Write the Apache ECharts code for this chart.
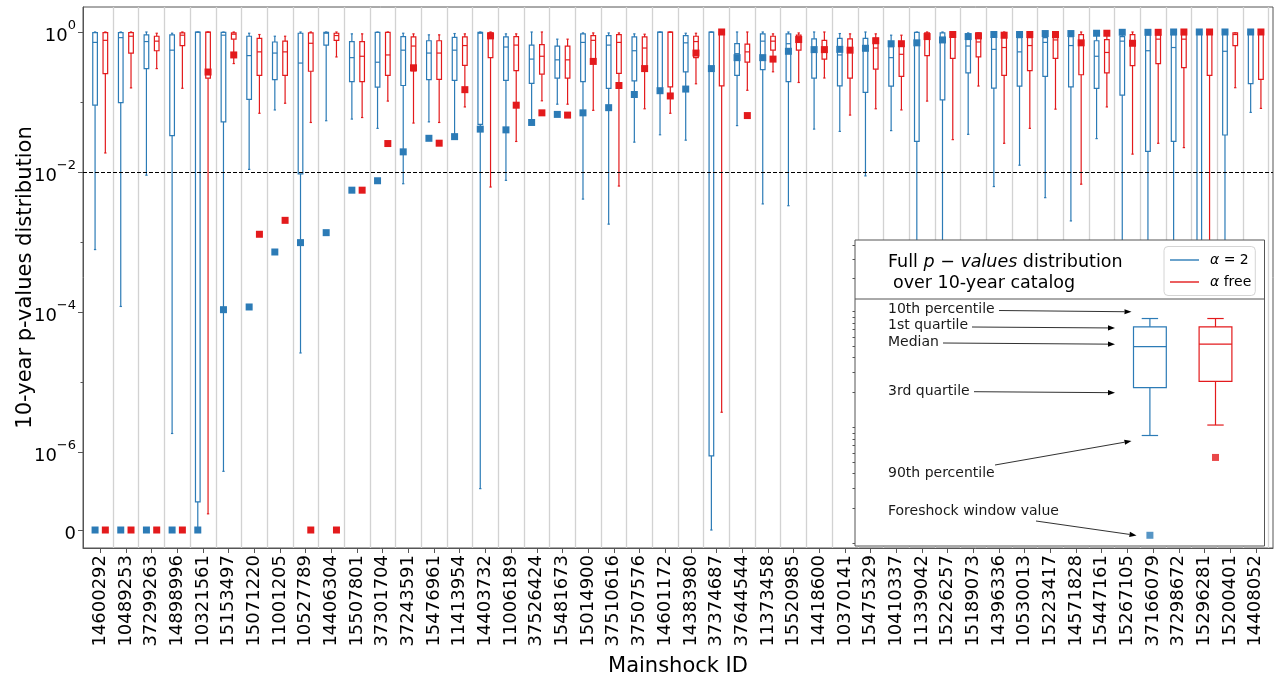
<!DOCTYPE html>
<html>
<head>
<meta charset="utf-8">
<script src="https://cdn.jsdelivr.net/npm/echarts@6.0.0/dist/echarts.min.js"></script>
<style>
  html, body { margin: 0; padding: 0; background: #fff; }
  #chart { width: 1277px; height: 682px; }
</style>
</head>
<body>
<div id="chart"></div>
<script>
// Mainshock identifiers, one box pair per mainshock
const mainshockIds = [
  '14600292','10489253','37299263','14898996','10321561','15153497','15071220','11001205',
  '10527789','14406304','15507801','37301704','37243591','15476961','11413954','14403732',
  '11006189','37526424','15481673','15014900','37510616','37507576','14601172','14383980',
  '37374687','37644544','11373458','15520985','14418600','10370141','15475329','10410337',
  '11339042','15226257','15189073','14396336','10530013','15223417','14571828','15447161',
  '15267105','37166079','37298672','15296281','15200401','14408052'
];

// alpha = 2: 10th percentile, 1st quartile, median, 3rd quartile, 90th percentile, foreshock window
const fixedP10 = [1.0,1.0,1.0,0.96,1.0,1.0,0.96,0.87,1.0,1.0,0.94,1.0,0.96,0.91,0.95,1.0,
  0.94,1.0,0.79,0.97,0.97,0.94,1.0,0.96,1.0,1.0,1.0,1.0,1.0,0.95,1.0,0.90,
  1.0,1.0,0.97,1.0,1.0,1.0,1.0,0.96,1.0,1.0,1.0,1.0,1.0,1.0];
const fixedQ1 = [0.98,0.98,0.91,0.91,1.0,0.99,0.87,0.72,0.96,0.99,0.73,0.99,0.86,0.75,0.84,0.99,
  0.85,0.65,0.63,0.94,0.89,0.85,1.0,0.89,1.0,0.68,0.94,0.94,0.80,0.81,0.81,0.62,
  0.99,0.97,0.93,0.84,0.83,0.83,0.86,0.75,0.86,0.92,0.92,1.0,1.0,1.0];
const fixedMedian = [0.71,0.83,0.73,0.55,0.99,0.90,0.46,0.50,0.36,0.96,0.43,0.37,0.55,0.50,0.55,0.96,
  0.61,0.41,0.40,0.71,0.65,0.54,0.99,0.70,0.99,0.49,0.74,0.68,0.55,0.47,0.58,0.43,
  0.70,0.77,0.63,0.565,0.52,0.71,0.64,0.45,0.74,0.54,0.60,0.98,0.53,0.98];
const fixedQ3 = [0.09,0.098,0.30,0.033,1.94e-7,0.052,0.109,0.209,0.0094,0.65,0.195,0.163,0.172,0.209,0.204,0.048,
  0.204,0.184,0.219,0.196,0.157,0.20,0.145,0.27,8.8e-7,0.24,0.29,0.196,0.22,0.17,0.137,0.169,
  0.0274,0.107,0.26,0.158,0.169,0.233,0.164,0.157,0.125,0.0197,0.0274,1e-5,0.0338,0.183];
const fixedP90 = [7.8e-4,1.2e-4,0.009,1.84e-6,0,5.3e-7,0.0109,0.077,2.6e-5,0.054,0.057,0.042,6.8e-3,0.052,0.0316,3.0e-7,
  7.6e-3,0.056,0.093,4.1e-3,1.8e-3,0.0267,0.034,0.0285,0,0.046,3.5e-3,3.3e-3,0.041,0.038,8.8e-3,0.039,
  2e-6,1e-6,0.0345,6.2e-3,0.0125,4.3e-3,2.0e-3,0.030,5e-6,1e-6,1e-6,0,1e-6,0.071];
const fixedForeshock = [0,0,0,0,0,1.08e-4,1.18e-4,7.2e-4,9.8e-4,1.36e-3,5.5e-3,7.5e-3,0.0194,0.0303,0.032,0.041,
  0.040,0.051,0.0665,0.070,0.083,0.128,0.145,0.153,0.30,0.43,0.43,0.53,0.56,0.565,0.585,0.68,
  0.70,0.77,0.86,0.92,0.92,0.95,0.95,0.96,0.99,0.99,1.0,1.0,1.0,1.0];

// alpha free
const freeP10 = [1.0,1.0,0.96,1.0,1.0,1.0,0.92,0.87,1.0,1.0,0.94,1.0,0.94,0.91,0.94,1.0,
  0.94,1.0,0.79,0.97,0.97,0.93,1.0,0.96,1.0,1.0,0.94,0.97,1.0,0.94,0.94,0.90,
  1.0,1.0,0.97,1.0,1.0,1.0,1.0,0.96,1.0,1.0,1.0,1.0,0.97,1.0];
const freeQ1 = [0.98,0.98,0.87,0.97,1.0,0.97,0.81,0.74,0.97,0.96,0.73,0.99,0.85,0.75,0.85,0.97,
  0.86,0.66,0.63,0.89,0.92,0.85,1.0,0.87,1.0,0.67,0.87,0.90,0.76,0.80,0.81,0.64,
  0.97,1.0,0.97,0.83,0.83,0.83,0.92,0.78,0.92,0.92,0.92,1.0,0.97,1.0];
const freeMedian = [0.76,0.87,0.74,0.90,0.99,0.93,0.52,0.52,0.69,0.89,0.45,0.47,0.63,0.50,0.64,0.92,
  0.65,0.45,0.40,0.76,0.71,0.59,0.99,0.73,0.99,0.52,0.74,0.80,0.56,0.55,0.59,0.48,
  0.86,0.93,0.72,0.60,0.64,0.77,0.72,0.51,0.70,0.79,0.79,0.99,0.92,0.98];
const freeQ3 = [0.254,0.50,0.54,0.64,0.219,0.79,0.24,0.24,0.275,0.76,0.196,0.24,0.278,0.21,0.334,0.43,
  0.281,0.25,0.22,0.39,0.257,0.30,0.164,0.43,0.17,0.37,0.55,0.55,0.41,0.22,0.294,0.233,
  0.46,0.42,0.44,0.24,0.28,0.42,0.245,0.26,0.33,0.353,0.31,0.24,0.64,0.21];
const freeP90 = [0.0187,0.159,0.30,0.157,1.31e-7,0.354,0.069,0.096,0.051,0.44,0.060,0.103,0.050,0.051,0.085,6.1e-3,
  0.0273,0.104,0.093,0.076,6.3e-3,0.080,0.069,0.182,3.7e-6,0.147,0.27,0.19,0.22,0.065,0.080,0.077,
  0.103,0.029,0.169,0.0257,0.042,0.079,6.7e-3,0.085,0.018,0.0257,0.0223,1e-6,0.16,0.081];
const freeForeshock = [0,0,0,0,0.268,0.47,1.29e-3,2.04e-3,0,0,5.5e-3,0.0255,0.308,0.0258,0.15,0.88,
  0.090,0.070,0.065,0.38,0.172,0.30,0.122,0.50,1.0,0.064,0.41,0.78,0.56,0.55,0.75,0.68,
  0.86,0.92,0.88,0.90,0.92,0.92,0.70,0.96,0.69,0.99,1.0,1.0,null,1.0];

// y tick decades (labelled and minor)
const yMajorExponents = [0, -2, -4, -6];
const yMinorExponents = [-1, -3, -5];
const significanceLevel = 0.01;

// Example distribution shown in the key
const keyLabels = ['α = 2', 'α free'];
const keyP10 = [0.526, 0.526];
const keyQ1 = [0.40, 0.40];
const keyMedian = [0.209, 0.226];
const keyQ3 = [0.054, 0.0667];
const keyP90 = [0.0112, 0.0158];
const keyForeshock = [4.2e-4, 5.44e-3];
// unlabeled log ticks along the key's left edge
const keyTickValues = [0.1,0.2,0.3,0.4,0.5,0.6,0.7,0.8,0.9,1,2,3,4,5,6,7,8,9,10];
const keyHeadTickValues = [2, 3, 4];

const BLUE = '#2c7bb6';
const RED = '#e31a1c';
const FRAME = '#555';
const FONT = 'DejaVu Sans';
const ZERO_POS = -7.114;          // axis position used for p = 0
const Y_MIN = -7.371, Y_MAX = 0.357;
const PAIR_SHIFT = 0.2;           // each model sits 0.2 units left / right of its mainshock
const BOX_W = 0.18;

function toAxis(p) {
  if (p === null || p === undefined) return null;
  return p > 0 ? Math.log10(p) : ZERO_POS;
}

function boxRows(p10, q1, med, q3, p90, shift, base) {
  return p10.map((_, i) => [i + base + shift,
    toAxis(p10[i]), toAxis(q1[i]), toAxis(med[i]), toAxis(q3[i]), toAxis(p90[i])]);
}
function pointRows(vals, shift, base) {
  const out = [];
  vals.forEach((v, i) => { if (v !== null) out.push([i + base + shift, toAxis(v)]); });
  return out;
}

function boxRenderer(color, width, lw) {
  return function (params, api) {
    const x = api.value(0);
    const cx = api.coord([x, api.value(1)])[0];
    const hw = api.size([width, 0])[0] / 2;
    const cw = hw / 2;
    const y = k => api.coord([x, api.value(k)])[1];
    const yTop = y(1), yQ1 = y(2), yMed = y(3), yQ3 = y(4), yBot = y(5);
    const st = { stroke: color, lineWidth: lw, fill: null };
    return {
      type: 'group',
      children: [
        { type: 'line', shape: { x1: cx, y1: yTop, x2: cx, y2: yQ1 }, style: st },
        { type: 'line', shape: { x1: cx, y1: yQ3, x2: cx, y2: yBot }, style: st },
        { type: 'line', shape: { x1: cx - cw, y1: yTop, x2: cx + cw, y2: yTop }, style: st },
        { type: 'line', shape: { x1: cx - cw, y1: yBot, x2: cx + cw, y2: yBot }, style: st },
        { type: 'rect', shape: { x: cx - hw, y: yQ1, width: 2 * hw, height: yQ3 - yQ1 }, style: st },
        { type: 'line', shape: { x1: cx - hw, y1: yMed, x2: cx + hw, y2: yMed }, style: st }
      ]
    };
  };
}

function supLabel(v) {
  if (Math.abs(v - ZERO_POS) < 1e-6) return '{b|0}';
  const e = Math.round(v);
  return '{b|10}{s|' + (e === 0 ? '0' : '\u2212' + (-e)) + '}';
}

const separators = mainshockIds.map((_, i) => ({ xAxis: i + 1.5 }));

function tickOnlyAxis(gridIndex, min, max, values, offset) {
  return {
    type: 'value', gridIndex: gridIndex, min: min, max: max, position: 'left', offset: offset,
    axisLine: { show: false }, axisLabel: { show: false }, splitLine: { show: false },
    axisTick: { show: true, length: 2.5, customValues: values, lineStyle: { color: FRAME } }
  };
}

const option = {
  animation: false,
  backgroundColor: '#fff',
  textStyle: { fontFamily: FONT, color: '#000' },
  grid: [
    { left: 83, right: 4, top: 7, bottom: 134, show: true, borderColor: FRAME, borderWidth: 1,
      backgroundColor: 'transparent', outerBoundsMode: 'none', containLabel: false },
    { left: 1117.1, top: 299, width: 131.2, height: 247, show: false, outerBoundsMode: 'none' },
    { left: 855, top: 240, width: 100, height: 59, show: false, outerBoundsMode: 'none' }
  ],
  xAxis: [
    {
      type: 'value', gridIndex: 0, min: 0.33, max: 46.67,
      name: 'Mainshock ID', nameLocation: 'middle', nameGap: 108, nameMoveOverlap: false,
      nameTextStyle: { fontSize: 21, color: '#000', fontFamily: FONT },
      axisLine: { show: true, onZero: false, lineStyle: { color: FRAME, width: 1 } },
      axisTick: { show: true, length: 5, customValues: mainshockIds.map((_, i) => i + 1), lineStyle: { color: FRAME } },
      axisLabel: {
        customValues: mainshockIds.map((_, i) => i + 1),
        formatter: v => mainshockIds[Math.round(v) - 1] || '',
        rotate: 90, fontSize: 18, color: '#000', margin: 7, fontFamily: FONT
      },
      splitLine: { show: false }
    },
    { type: 'value', gridIndex: 1, min: 0.5, max: 2.5, show: false },
    { type: 'value', gridIndex: 2, min: 0, max: 1, show: false }
  ],
  yAxis: [
    {
      type: 'value', gridIndex: 0, min: Y_MIN, max: Y_MAX,
      name: '10-year p-values distribution', nameLocation: 'middle', nameGap: 47, nameRotate: 90,
      nameMoveOverlap: false,
      nameTextStyle: { fontSize: 21, color: '#000', fontFamily: FONT },
      axisLine: { show: true, onZero: false, lineStyle: { color: FRAME, width: 1 } },
      axisTick: { show: true, length: 5, customValues: yMajorExponents.concat([ZERO_POS]), lineStyle: { color: FRAME } },
      axisLabel: {
        customValues: yMajorExponents.concat([ZERO_POS]),
        formatter: supLabel, margin: 7, color: '#000',
        rich: {
          b: { fontSize: 18, fontFamily: FONT, color: '#000', lineHeight: 26, verticalAlign: 'bottom' },
          s: { fontSize: 13, fontFamily: FONT, color: '#000', lineHeight: 15, verticalAlign: 'top' }
        }
      },
      splitLine: { show: false }
    },
    tickOnlyAxis(0, Y_MIN, Y_MAX, yMinorExponents, 0),
    { type: 'value', gridIndex: 1, min: -3.53, max: 0, show: false },
    // key panel log ticks: one decade ≈ 116 px, 1 sits at y ≈ 427
    tickOnlyAxis(1, -1.0216, 1.108, keyTickValues.map(Math.log10), 262.1),
    // heading panel log ticks
    tickOnlyAxis(2, 0.107, 0.653, keyHeadTickValues.map(Math.log10), 0)
  ],
  legend: {
    data: keyLabels, orient: 'vertical', left: 1164, top: 246.5,
    padding: [5, 4, 5, 6], itemWidth: 29, itemHeight: 1.4, itemGap: 5, icon: 'rect',
    backgroundColor: '#fff', borderColor: '#d4d4d4', borderWidth: 1, borderRadius: 4,
    selectedMode: false, z: 12,
    formatter: n => (n === keyLabels[0] ? '{i|α} = 2' : '{i|α} free'),
    textStyle: {
      fontSize: 14, color: '#000', fontFamily: FONT, padding: [0, 0, 0, 6], lineHeight: 17,
      rich: { i: { fontStyle: 'italic', fontSize: 14, fontFamily: FONT, color: '#000' } }
    }
  },
  series: [
    {
      name: 'separators', type: 'line', xAxisIndex: 0, yAxisIndex: 0, data: [], z: 1, silent: true,
      markLine: { silent: true, symbol: 'none', label: { show: false }, animation: false,
        lineStyle: { color: '#d2d2d2', width: 1.3, type: 'solid' }, data: separators }
    },
    {
      name: keyLabels[0], type: 'custom', xAxisIndex: 0, yAxisIndex: 0, z: 2,
      itemStyle: { color: BLUE },
      renderItem: boxRenderer(BLUE, BOX_W, 1.2),
      encode: { x: 0, y: [1, 2, 3, 4, 5] },
      data: boxRows(fixedP10, fixedQ1, fixedMedian, fixedQ3, fixedP90, -PAIR_SHIFT, 1),
      markLine: { silent: true, symbol: 'none', label: { show: false }, animation: false,
        lineStyle: { color: '#000', width: 1, type: [4, 2] },
        data: [{ yAxis: Math.log10(significanceLevel) }] }
    },
    {
      name: keyLabels[1], type: 'custom', xAxisIndex: 0, yAxisIndex: 0, z: 2,
      itemStyle: { color: RED },
      renderItem: boxRenderer(RED, BOX_W, 1.2),
      encode: { x: 0, y: [1, 2, 3, 4, 5] },
      data: boxRows(freeP10, freeQ1, freeMedian, freeQ3, freeP90, PAIR_SHIFT, 1)
    },
    {
      name: 'foreshock α = 2', type: 'scatter', xAxisIndex: 0, yAxisIndex: 0, z: 3,
      symbol: 'rect', symbolSize: 7, itemStyle: { color: BLUE, opacity: 1 },
      data: pointRows(fixedForeshock, -PAIR_SHIFT, 1)
    },
    {
      name: 'foreshock α free', type: 'scatter', xAxisIndex: 0, yAxisIndex: 0, z: 3,
      symbol: 'rect', symbolSize: 7, itemStyle: { color: RED, opacity: 1 },
      data: pointRows(freeForeshock, PAIR_SHIFT, 1)
    },
    // key: example boxes
    {
      name: 'key α = 2', type: 'custom', xAxisIndex: 1, yAxisIndex: 2, z: 11,
      renderItem: boxRenderer(BLUE, 0.5, 1.2),
      encode: { x: 0, y: [1, 2, 3, 4, 5] },
      data: [[1, toAxis(keyP10[0]), toAxis(keyQ1[0]), toAxis(keyMedian[0]), toAxis(keyQ3[0]), toAxis(keyP90[0])]]
    },
    {
      name: 'key α free', type: 'custom', xAxisIndex: 1, yAxisIndex: 2, z: 11,
      renderItem: boxRenderer(RED, 0.5, 1.2),
      encode: { x: 0, y: [1, 2, 3, 4, 5] },
      data: [[2, toAxis(keyP10[1]), toAxis(keyQ1[1]), toAxis(keyMedian[1]), toAxis(keyQ3[1]), toAxis(keyP90[1])]]
    },
    {
      name: 'key foreshock', type: 'scatter', xAxisIndex: 1, yAxisIndex: 2, z: 11,
      symbol: 'rect', symbolSize: 7,
      data: [
        { value: [1, toAxis(keyForeshock[0])], itemStyle: { color: BLUE } },
        { value: [2, toAxis(keyForeshock[1])], itemStyle: { color: RED } }
      ]
    }
  ]
};

// Key panel: frame, heading and annotated arrows
function arrow(x1, y1, x2, y2) {
  const a = Math.atan2(y2 - y1, x2 - x1), L = 7, W = 2.6;
  const bx = x2 - L * Math.cos(a), by = y2 - L * Math.sin(a);
  const px = -Math.sin(a) * W, py = Math.cos(a) * W;
  return [
    { type: 'line', z: 12, silent: true, shape: { x1: x1, y1: y1, x2: bx, y2: by }, style: { stroke: '#1a1a1a', lineWidth: 0.9 } },
    { type: 'polygon', z: 12, silent: true, shape: { points: [[x2, y2], [bx + px, by + py], [bx - px, by - py]] }, style: { fill: '#000' } }
  ];
}
function note(text, x, y) {
  return { type: 'text', z: 12, silent: true, x: x, y: y,
    style: { text: text, fontSize: 14, fontFamily: FONT, fill: '#1a1a1a', verticalAlign: 'middle', align: 'left' } };
}

option.graphic = [
  { type: 'rect', z: 10, silent: true, shape: { x: 855, y: 240, width: 409.5, height: 306 },
    style: { fill: '#fff', stroke: FRAME, lineWidth: 1 } },
  { type: 'line', z: 10, silent: true, shape: { x1: 855, y1: 299, x2: 1264.5, y2: 299 },
    style: { stroke: FRAME, lineWidth: 1 } },
  { type: 'text', z: 12, silent: true, x: 888, y: 262,
    style: { text: '{n|Full }{i|p}{n| \u2212 }{i|values}{n| distribution}', verticalAlign: 'middle',
      rich: { n: { fontSize: 17.5, fontFamily: FONT, fill: '#000' }, i: { fontSize: 17.5, fontFamily: FONT, fontStyle: 'italic', fill: '#000' } } } },
  { type: 'text', z: 12, silent: true, x: 893, y: 283,
    style: { text: 'over 10-year catalog', fontSize: 17.5, fontFamily: FONT, fill: '#000', verticalAlign: 'middle' } },
  note('10th percentile', 888, 309),
  note('1st quartile', 888, 325),
  note('Median', 888, 342),
  note('3rd quartile', 888, 391),
  note('90th percentile', 888, 473),
  note('Foreshock window value', 888, 511)
].concat(
  arrow(999, 310.5, 1131.5, 311.8),
  arrow(972, 327, 1115, 328),
  arrow(943, 343, 1115, 344.2),
  arrow(974, 391.7, 1115, 392.7),
  arrow(995, 465, 1131.5, 441),
  arrow(1036, 521, 1136.5, 535.4)
);

const chart = echarts.init(document.getElementById('chart'), null, { renderer: 'canvas' });
chart.setOption(option);
</script>
</body>
</html>
